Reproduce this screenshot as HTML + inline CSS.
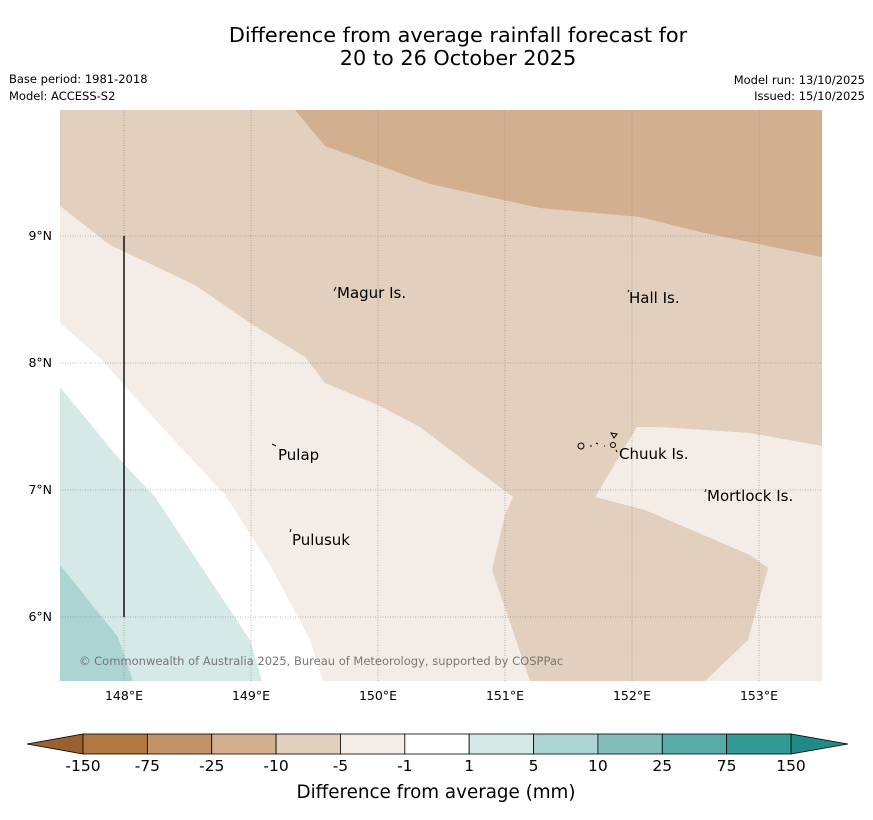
<!DOCTYPE html>
<html><head><meta charset="utf-8"><style>
body{margin:0;background:#fff;font-family:"DejaVu Sans","Liberation Sans",sans-serif;}
</style></head><body>
<svg width="873" height="816" viewBox="0 0 873 816" xmlns="http://www.w3.org/2000/svg" font-family="DejaVu Sans, Liberation Sans, sans-serif">
<text x="458" y="42" font-size="20.8" text-anchor="middle">Difference from average rainfall forecast for</text>
<text x="458" y="65" font-size="20.8" text-anchor="middle">20 to 26 October 2025</text>
<text x="9" y="83" font-size="11.5">Base period: 1981-2018</text>
<text x="9" y="100" font-size="11.5">Model: ACCESS-S2</text>
<text x="865" y="84" font-size="11.5" text-anchor="end">Model run: 13/10/2025</text>
<text x="865" y="100" font-size="11.5" text-anchor="end">Issued: 15/10/2025</text>
<g>
<rect x="60" y="110" width="762" height="571" fill="#f4ede7"/>
<polygon fill="#e2cfbd" points="60,110 822,110 822,446 750,433 660,427 637,427 595,497 645,510 750,555 768,568 748,640 705,681 530,681 492,570 505,515 513,497 470,465 420,427 378,405 325,383 305,357 250,323 195,285 110,245 60,206"/>
<polygon fill="#d2b08f" points="295,110 325,146 430,184 540,208 640,217 700,232 822,257 822,110"/>
<polygon fill="#ffffff" points="60,323 100,358 160,425 225,495 270,565 310,640 323,681 262,681 250,640 200,565 155,497 120,460 60,387"/>
<polygon fill="#d5e9e7" points="60,387 120,460 155,497 200,565 250,640 262,681 60,681"/>
<polygon fill="#abd4d2" points="60,565 118,637 133,681 60,681"/>
<g stroke="#777" stroke-width="0.5" stroke-dasharray="1,1.5">
<line x1="124" y1="110" x2="124" y2="681"/><line x1="251" y1="110" x2="251" y2="681"/><line x1="378" y1="110" x2="378" y2="681"/><line x1="505" y1="110" x2="505" y2="681"/><line x1="632" y1="110" x2="632" y2="681"/><line x1="759" y1="110" x2="759" y2="681"/>
<line x1="60" y1="236" x2="822" y2="236"/><line x1="60" y1="363" x2="822" y2="363"/><line x1="60" y1="490" x2="822" y2="490"/><line x1="60" y1="617" x2="822" y2="617"/>
</g>
<line x1="124" y1="236" x2="124" y2="617" stroke="#111" stroke-width="1.5"/>
<g font-size="15" fill="#000">
<text x="337" y="298">Magur Is.</text>
<text x="629" y="303">Hall Is.</text>
<text x="278" y="460">Pulap</text>
<text x="619" y="459">Chuuk Is.</text>
<text x="707" y="501">Mortlock Is.</text>
<text x="292" y="545">Pulusuk</text>
</g>
<g stroke="#000" stroke-width="1" fill="none">
<path d="M334,291 l2,-4"/><path d="M628,292 l1,-2"/><path d="M272,444 l4,2"/><path d="M290,532 l1,-3"/><path d="M705,492 l1,-3"/>
<circle cx="581" cy="446" r="3"/><path d="M590,446 h2 M596,443 l2,1 M604,446 h1"/><path d="M611,433 l6,1 -3,4z"/><circle cx="613" cy="445" r="2.5"/><path d="M616,450 l1,2"/>
</g>
<text x="79" y="665" font-size="11.5" fill="#777">© Commonwealth of Australia 2025, Bureau of Meteorology, supported by COSPPac</text>
</g>
<g font-size="12.5">
<text x="52" y="240" text-anchor="end">9°N</text><text x="52" y="367" text-anchor="end">8°N</text><text x="52" y="494" text-anchor="end">7°N</text><text x="52" y="621" text-anchor="end">6°N</text>
</g>
<g font-size="12.5" text-anchor="middle">
<text x="124" y="700">148°E</text><text x="251" y="700">149°E</text><text x="378" y="700">150°E</text><text x="505" y="700">151°E</text><text x="632" y="700">152°E</text><text x="759" y="700">153°E</text>
</g>
<g id="cbar"></g>
<text x="436" y="798" font-size="18.3" text-anchor="middle">Difference from average (mm)</text>
</svg>
<script>
const cbLabels=["-150","-75","-25","-10","-5","-1","1","5","10","25","75","150"];
const cbColors=["#b07840","#c09368","#d2b08f","#e2cfbd","#f4ede7","#ffffff","#d5e9e7","#abd4d2","#82bfbc","#58aaa7","#339a96"];
const g=document.getElementById('cbar');
const NS="http://www.w3.org/2000/svg";
const x0=83,x1=791,y0=734,h=20,w=(x1-x0)/cbColors.length;
function mk(t,a){const e=document.createElementNS(NS,t);for(const k in a)e.setAttribute(k,a[k]);g.appendChild(e);return e;}
let t1=mk('polygon',{points:`27,744 ${x0},${y0} ${x0},${y0+h}`,fill:'#9a6030',stroke:'#000','stroke-width':0.8});


let t2=mk('polygon',{points:`848,744 ${x1},${y0} ${x1},${y0+h}`,fill:'#1f8a86',stroke:'#000','stroke-width':0.8});


cbColors.forEach((c,i)=>{
 const r=mk('rect',{x:x0+i*w,y:y0,width:w,height:h,fill:c,stroke:'#000','stroke-width':0.8});
 
 
});
cbLabels.forEach((l,i)=>{
 const t=mk('text',{x:x0+i*w,y:771,'font-size':15.5,'text-anchor':'middle'});
 t.textContent=l;
 
 
});
</script>
</body></html>
